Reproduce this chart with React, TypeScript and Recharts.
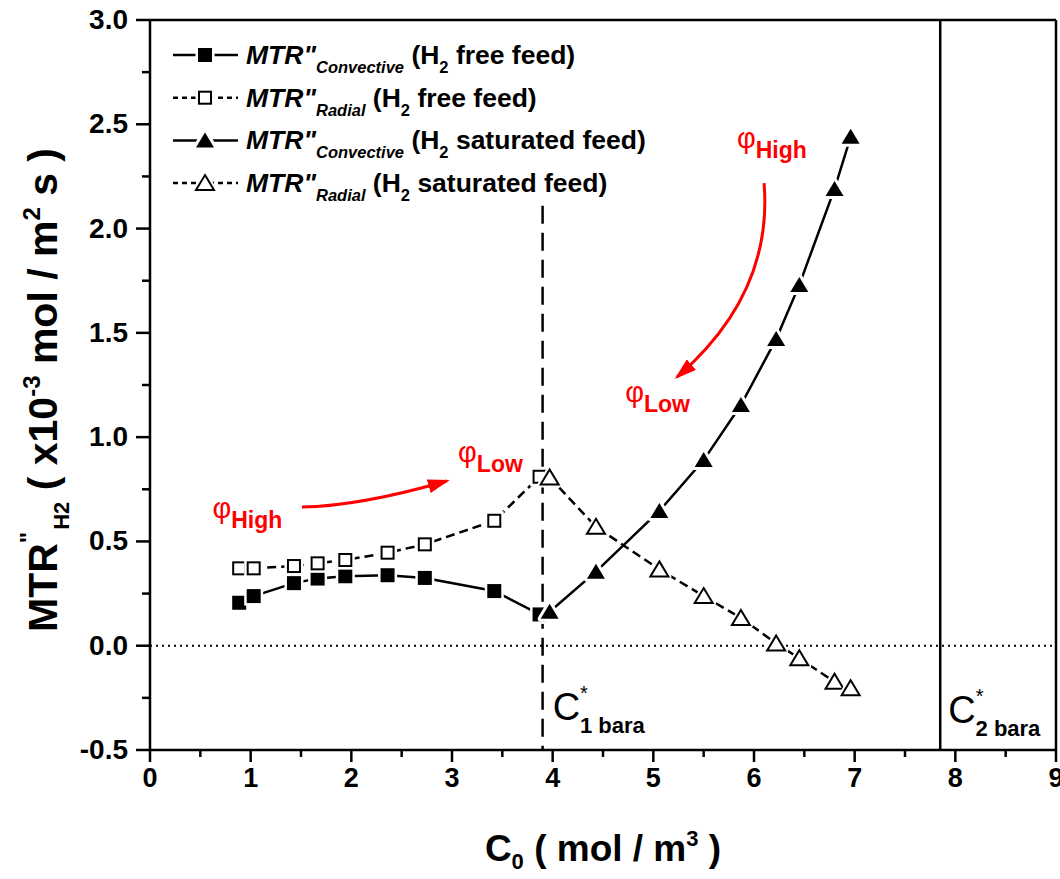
import React from "react";
import { ComposedChart, Line, XAxis, YAxis, ReferenceLine } from "recharts";

// C0 values (mol/m3)
const freeFeedC0 = [0.886, 1.03, 1.43, 1.665, 1.94, 2.36, 2.73, 3.42, 3.87];
const convectiveFree = [0.206, 0.238, 0.3, 0.322, 0.333, 0.338, 0.325, 0.262, 0.15];
const radialFree = [0.371, 0.371, 0.382, 0.395, 0.411, 0.446, 0.486, 0.599, 0.81];

const satFeedC0 = [3.97, 4.43, 5.06, 5.5, 5.87, 6.22, 6.45, 6.8, 6.96];
const convectiveSat = [0.163, 0.355, 0.646, 0.89, 1.154, 1.47, 1.73, 2.19, 2.44];
const radialSat = [0.807, 0.57, 0.366, 0.238, 0.133, 0.011, -0.06, -0.173, -0.204];

const xTicks = [0, 0.5, 1, 1.5, 2, 2.5, 3, 3.5, 4, 4.5, 5, 5.5, 6, 6.5, 7, 7.5, 8, 8.5, 9];
const yTicks = [-0.5, -0.25, 0, 0.25, 0.5, 0.75, 1, 1.25, 1.5, 1.75, 2, 2.25, 2.5, 2.75, 3];

const C1_BARA = 3.9;
const C2_BARA = 7.85;

const W = 1060;
const H = 879;
const Y_AXIS_W = 70;
const X_AXIS_H = 50;
const PLOT = { top: 20, right: 4, bottom: 129, left: 150 };
const M = { top: PLOT.top, right: PLOT.right, bottom: PLOT.bottom - X_AXIS_H, left: PLOT.left - Y_AXIS_W };
const X_MIN = 0, X_MAX = 9, Y_MIN = -0.5, Y_MAX = 3;
const FONT = "'Liberation Sans', Arial, sans-serif";
const RED = "#ff0000";

const toPts = (xs: number[], ys: number[]) => xs.map((x, i) => ({ x, y: ys[i] }));

const convFreeData = toPts(freeFeedC0, convectiveFree);
const radialFreeData = toPts(freeFeedC0, radialFree);
const convSatData = toPts(satFeedC0, convectiveSat);
const radialSatData = toPts(satFeedC0, radialSat);

// same mapping as the plot area, for annotations only
const sx = (v: number) => PLOT.left + ((v - X_MIN) / (X_MAX - X_MIN)) * (W - PLOT.left - PLOT.right);
const sy = (v: number) => PLOT.top + ((Y_MAX - v) / (Y_MAX - Y_MIN)) * (H - PLOT.top - PLOT.bottom);

// markers get a thin white halo so the connecting line stops short of them, like Origin does
function Square({ cx, cy, filled, halo = true }: { cx: number; cy: number; filled: boolean; halo?: boolean }) {
  return (
    <g>
      {halo && <rect x={cx - 7} y={cy - 7} width={14} height={14} fill="#fff" stroke="#fff" strokeWidth={5} />}
      {filled ? (
        <rect x={cx - 7} y={cy - 7} width={14} height={14} fill="#000" />
      ) : (
        <rect x={cx - 6} y={cy - 6} width={12} height={12} fill="#fff" stroke="#000" strokeWidth={2} />
      )}
    </g>
  );
}

function Triangle({ cx, cy, filled, halo = true }: { cx: number; cy: number; filled: boolean; halo?: boolean }) {
  const d = `M${cx},${cy - 8} L${cx + 9},${cy + 7} L${cx - 9},${cy + 7} Z`;
  return (
    <g>
      {halo && <path d={d} fill="#fff" stroke="#fff" strokeWidth={6} strokeLinejoin="round" />}
      {filled ? (
        <path d={d} fill="#000" />
      ) : (
        <path d={d} fill="#fff" stroke="#000" strokeWidth={2} strokeLinejoin="miter" />
      )}
    </g>
  );
}

const dotOf = (kind: "square" | "triangle", filled: boolean) => (p: any) => {
  const Shape = kind === "square" ? Square : Triangle;
  return <Shape key={`${kind}-${filled}-${p.index}`} cx={p.cx} cy={p.cy} filled={filled} />;
};

function XTick(props: any) {
  const { x, y, payload } = props;
  const v = payload.value as number;
  const major = Math.abs(v - Math.round(v)) < 1e-6;
  return (
    <g>
      <line x1={x} x2={x} y1={y} y2={y + (major ? 12 : 7)} stroke="#000" strokeWidth={2.5} />
      {major && (
        <text x={x} y={y + 37} textAnchor="middle" fontSize={27} fontWeight="bold" fontFamily={FONT} fill="#000">
          {v}
        </text>
      )}
    </g>
  );
}

function YTick(props: any) {
  const { x, y, payload } = props;
  const v = payload.value as number;
  const major = Math.abs(v * 2 - Math.round(v * 2)) < 1e-6;
  return (
    <g>
      <line x1={x - (major ? 14 : 8)} x2={x} y1={y} y2={y} stroke="#000" strokeWidth={2.5} />
      {major && (
        <text x={x - 22} y={y + 9} textAnchor="end" fontSize={28} fontWeight="bold" fontFamily={FONT} fill="#000">
          {v.toFixed(1)}
        </text>
      )}
    </g>
  );
}

const legendRows = [
  { sub: "Convective", feed: "free feed", kind: "square" as const, filled: true, dash: undefined },
  { sub: "Radial", feed: "free feed", kind: "square" as const, filled: false, dash: "5 4" },
  { sub: "Convective", feed: "saturated feed", kind: "triangle" as const, filled: true, dash: undefined },
  { sub: "Radial", feed: "saturated feed", kind: "triangle" as const, filled: false, dash: "5 4" },
];

function Phi({ x, y, sub }: { x: number; y: number; sub: string }) {
  return (
    <text x={sx(x)} y={sy(y)} fill={RED} fontFamily={FONT} fontSize={29}>
      φ
      <tspan fontSize={23} fontWeight="bold" dy={10}>
        {sub}
      </tspan>
    </text>
  );
}

function Overlay() {
  const a1 = `M${sx(1.51)},${sy(0.665)} Q${sx(2.085)},${sy(0.67)} ${sx(2.95)},${sy(0.79)}`;
  const a2 = `M${sx(6.1)},${sy(2.218)} Q${sx(6.19)},${sy(1.686)} ${sx(5.235)},${sy(1.288)}`;
  return (
    <svg width={W} height={H} style={{ position: "absolute", left: 0, top: 0, pointerEvents: "none" }}>
      <defs>
        <marker id="head" markerUnits="userSpaceOnUse" markerWidth={22} markerHeight={14} refX={19} refY={7} orient="auto">
          <path d="M0,0 L22,7 L0,14 Z" fill={RED} />
        </marker>
      </defs>

      {/* legend */}
      {legendRows.map((r, i) => {
        const cy = 55 + i * 42.7;
        return (
          <g key={i}>
            <line x1={173} x2={238} y1={cy} y2={cy} stroke="#000" strokeWidth={2.5} strokeDasharray={r.dash} />
            {r.kind === "square" ? <Square cx={205} cy={cy} filled={r.filled} /> : <Triangle cx={205} cy={cy} filled={r.filled} />}
            <text x={246} y={cy + 9} fontFamily={FONT} fontSize={26.5} fontWeight="bold" fill="#000">
              <tspan fontStyle="italic">MTR"</tspan>
              <tspan fontStyle="italic" fontSize={16.5} dy={9}>
                {r.sub}
              </tspan>
              <tspan dy={-9}>{" (H"}</tspan>
              <tspan fontSize={16.5} dy={9}>
                2
              </tspan>
              <tspan dy={-9}>{" " + r.feed + ")"}</tspan>
            </text>
          </g>
        );
      })}

      {/* red annotations */}
      <path d={a1} fill="none" stroke={RED} strokeWidth={3} markerEnd="url(#head)" />
      <path d={a2} fill="none" stroke={RED} strokeWidth={3} markerEnd="url(#head)" />
      <Phi x={0.62} y={0.612} sub="High" />
      <Phi x={3.06} y={0.881} sub="Low" />
      <Phi x={5.83} y={2.386} sub="High" />
      <Phi x={4.72} y={1.169} sub="Low" />

      {/* saturation concentrations */}
      <text x={sx(4.0)} y={sy(-0.356)} fontFamily={FONT} fontSize={38} fill="#000">
        C
        <tspan fontSize={20} dy={-20}>*</tspan>
        <tspan fontSize={22} fontWeight="bold" dx={-8} dy={33}>1 bara</tspan>
      </text>
      <text x={sx(7.93)} y={sy(-0.37)} fontFamily={FONT} fontSize={38} fill="#000">
        C
        <tspan fontSize={20} dy={-20}>*</tspan>
        <tspan fontSize={22} fontWeight="bold" dx={-8} dy={33}>2 bara</tspan>
      </text>

      {/* axis titles */}
      <text x={603} y={861} textAnchor="middle" fontFamily={FONT} fontSize={37} fontWeight="bold" fill="#000">
        C
        <tspan fontSize={22} dy={8}>0</tspan>
        <tspan dy={-8}>{" ( mol / m"}</tspan>
        <tspan fontSize={22} dy={-15}>3</tspan>
        <tspan dy={15}>{" )"}</tspan>
      </text>
      <text transform="translate(57,390) rotate(-90)" textAnchor="middle" fontFamily={FONT} fontSize={41} fontWeight="bold" fill="#000">
        MTR
        <tspan fontSize={24} dy={-20}>"</tspan>
        <tspan fontSize={22} dx={2} dy={32}>H2</tspan>
        <tspan dy={-12}>{" ( x10"}</tspan>
        <tspan fontSize={24} dy={-17}>-3</tspan>
        <tspan dy={17}>{" mol / m"}</tspan>
        <tspan fontSize={24} dy={-17}>2</tspan>
        <tspan dy={17}>{" s )"}</tspan>
      </text>
    </svg>
  );
}

export default function App() {
  return (
    <div style={{ position: "absolute", left: 0, top: 0, width: W, height: H, background: "#fff", fontFamily: FONT }}>
      <ComposedChart width={W} height={H} margin={M}>
        <XAxis
          dataKey="x"
          type="number"
          domain={[X_MIN, X_MAX]}
          ticks={xTicks}
          interval={0}
          allowDataOverflow
          height={X_AXIS_H}
          tickSize={0}
          tickMargin={0}
          tickLine={false}
          axisLine={{ stroke: "#000", strokeWidth: 2.5 }}
          tick={<XTick />}
        />
        <YAxis
          dataKey="y"
          type="number"
          domain={[Y_MIN, Y_MAX]}
          ticks={yTicks}
          interval={0}
          allowDataOverflow
          width={Y_AXIS_W}
          tickSize={0}
          tickMargin={0}
          tickLine={false}
          axisLine={{ stroke: "#000", strokeWidth: 2.5 }}
          tick={<YTick />}
        />
        <ReferenceLine y={Y_MAX} stroke="#000" strokeWidth={2.5} />
        <ReferenceLine x={X_MAX} stroke="#000" strokeWidth={2.5} />
        <ReferenceLine y={0} stroke="#000" strokeWidth={2} strokeDasharray="2 4" />
        <ReferenceLine x={C2_BARA} stroke="#000" strokeWidth={2.5} />
        <ReferenceLine
          segment={[
            { x: C1_BARA, y: 2.11 },
            { x: C1_BARA, y: Y_MIN },
          ]}
          stroke="#000"
          strokeWidth={2.5}
          strokeDasharray="18 9"
        />
        <Line data={convFreeData} dataKey="y" type="linear" stroke="#000" strokeWidth={2.5}
          dot={dotOf("square", true)} activeDot={false} isAnimationActive={false} />
        <Line data={radialFreeData} dataKey="y" type="linear" stroke="#000" strokeWidth={2.5} strokeDasharray="9 5"
          dot={dotOf("square", false)} activeDot={false} isAnimationActive={false} />
        <Line data={convSatData} dataKey="y" type="linear" stroke="#000" strokeWidth={2.5}
          dot={dotOf("triangle", true)} activeDot={false} isAnimationActive={false} />
        <Line data={radialSatData} dataKey="y" type="linear" stroke="#000" strokeWidth={2.5} strokeDasharray="9 5"
          dot={dotOf("triangle", false)} activeDot={false} isAnimationActive={false} />
      </ComposedChart>
      <Overlay />
    </div>
  );
}
